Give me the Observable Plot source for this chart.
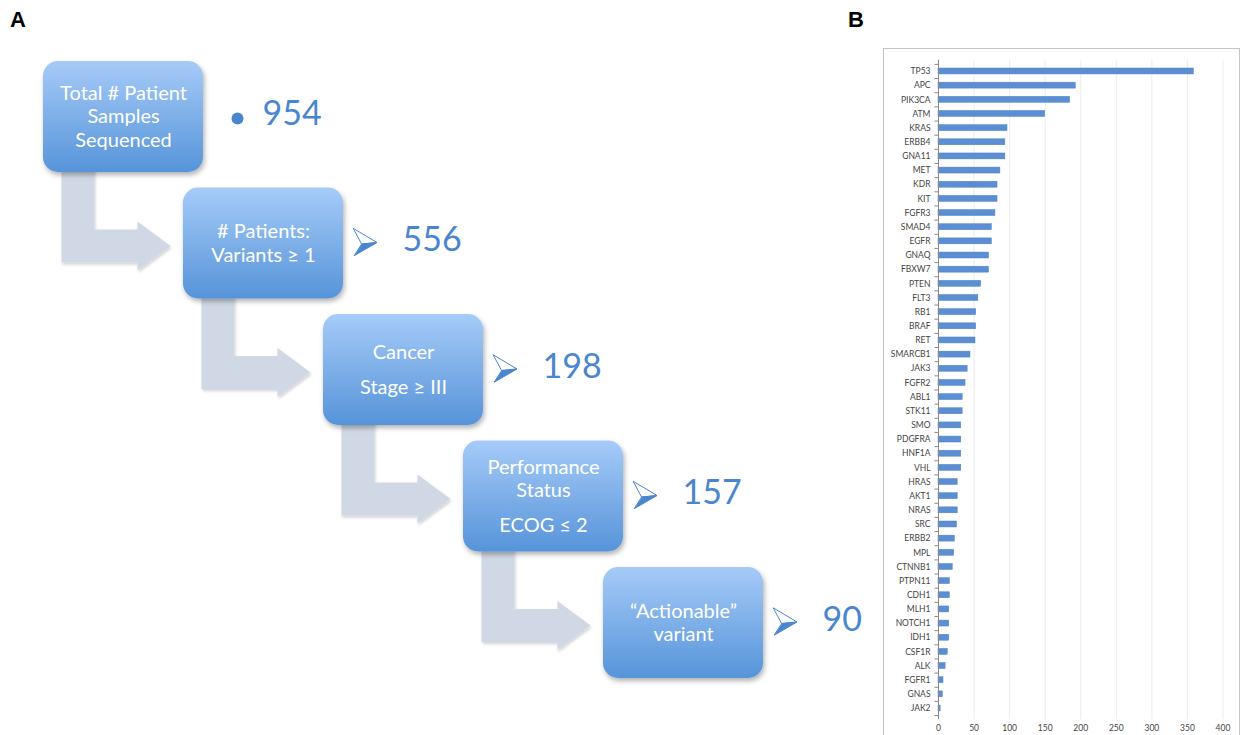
<!DOCTYPE html>
<html><head><meta charset="utf-8">
<script src="https://cdn.jsdelivr.net/npm/d3@7"></script>
<script src="https://cdn.jsdelivr.net/npm/@observablehq/plot@0.6"></script>
<style>
html,body{margin:0;padding:0;background:#fff;}
#root{position:relative;width:1244px;height:735px;overflow:hidden;}
.plabel{position:absolute;font:bold 22px "Liberation Sans",Arial,sans-serif;line-height:22px;color:#000;}
#a{position:absolute;left:0;top:0;}
#b{position:absolute;left:883px;top:48px;width:357px;height:700px;border:1px solid #c4c4c4;box-sizing:border-box;}
#b svg{position:absolute;left:0;top:0;}
</style></head>
<body><div id="root">
<div id="a"></div>
<div id="b"></div>
<div class="plabel" style="left:10px;top:9px">A</div>
<div class="plabel" style="left:848px;top:9px">B</div>
</div>
<script>
// ---- Panel A data ----
const stageLabels = [
  "Total # Patient\nSamples\nSequenced",
  "# Patients:\nVariants ≥ 1",
  "Cancer\n\nStage ≥ III",
  "Performance\nStatus\n\nECOG ≤ 2",
  "“Actionable”\nvariant"
];
const stageCounts = [954, 556, 198, 157, 90];

// ---- Panel B data ----
const genes = ["TP53","APC","PIK3CA","ATM","KRAS","ERBB4","GNA11","MET","KDR","KIT","FGFR3","SMAD4","EGFR","GNAQ","FBXW7","PTEN","FLT3","RB1","BRAF","RET","SMARCB1","JAK3","FGFR2","ABL1","STK11","SMO","PDGFRA","HNF1A","VHL","HRAS","AKT1","NRAS","SRC","ERBB2","MPL","CTNNB1","PTPN11","CDH1","MLH1","NOTCH1","IDH1","CSF1R","ALK","FGFR1","GNAS","JAK2"];
const geneCounts = [359,193,185,150,97,94,94,87,83,83,80,75,75,71,71,60,56,53,53,52,45,41,38,34,34,32,32,32,32,27,27,27,26,23,22,20,16,16,15,15,15,13,10,7,6,3];
const xTicks = [0,50,100,150,200,250,300,350,400];

// ================= Panel A =================
const W_A = 860, H_A = 735;
const SX = 140, SY = 126.5;   // px per flow step
const OX = 123, OY = 116.5;   // px of first box centre
const ux = px => px / SX, uy = px => px / SY;
const BW = ux(80), BH = uy(55.5);
const BLUE = "#4a86cf";
const FONT = "Lato, 'Open Sans', sans-serif";

const stages = stageLabels.map((label, i) => ({i, label, count: stageCounts[i]}));

// L-shaped grey connectors
const arrowPts = [];
for (let i = 0; i < stages.length - 1; i++) {
  const c = i, n = i + 1;
  [[c, -62, c, 50], [c, -29, c, 50], [c, -29, n, -14], [n, -126, n, -14], [n, -126, n, -22],
   [n, -93, n, 2.5], [n, -126, n, 27], [n, -126, n, 19], [c, -62, n, 19]]
    .forEach(([bx, dx, by, dy]) => arrowPts.push({a: i, x: bx + ux(dx), y: by + uy(dy)}));
}

// box text lines (blank line = half-line gap)
const LH = 23.5;
const lines = [];
stages.forEach(s => {
  let off = 0; const rows = [];
  s.label.split("\n").forEach(p => { if (p === "") off += 0.5; else { rows.push({text: p, off}); off += 1; } });
  const span = rows[rows.length - 1].off;
  rows.forEach(r => lines.push({i: s.i, text: r.text, y: s.i + uy((r.off - span / 2) * LH)}));
});

// arrowhead bullets (stages after the first)
const headTop = [], headBot = [];
stages.slice(1).forEach(s => {
  const cx = s.i + ux(80 + 22), cy = s.i + uy(-1);
  [[-12, -14], [11.5, 0], [-3.5, 1.5]].forEach(([dx, dy]) => headTop.push({k: s.i, x: cx + ux(dx), y: cy + uy(dy)}));
  [[-3.5, 1.5], [11.5, 0], [-11, 13]].forEach(([dx, dy]) => headBot.push({k: s.i, x: cx + ux(dx), y: cy + uy(dy)}));
});

const plotA = Plot.plot({
  width: W_A, height: H_A,
  margin: 0,
  x: {domain: [-OX / SX, (W_A - OX) / SX], axis: null},
  y: {domain: [-OY / SY, (H_A - OY) / SY], reverse: true, axis: null},
  style: {background: "transparent", overflow: "visible"},
  marks: [
    Plot.line(arrowPts, {x: "x", y: "y", z: "a", fill: "#cfd8e4", stroke: "none", curve: "linear-closed"}),
    Plot.rect(stages, {x1: d => d.i - BW, x2: d => d.i + BW, y1: d => d.i - BH, y2: d => d.i + BH,
      fill: "url(#boxGrad)", rx: 15, ry: 15}),
    Plot.text(lines, {x: "i", y: "y", text: "text", fill: "white", fontSize: 20, fontFamily: FONT}),
    Plot.dot(stages.slice(0, 1), {x: d => d.i + ux(80 + 34), y: d => d.i + uy(1.5), r: 6, fill: BLUE, stroke: "none"}),
    Plot.line(headTop, {x: "x", y: "y", z: "k", fill: "white", stroke: BLUE, strokeWidth: 1, curve: "linear-closed"}),
    Plot.line(headBot, {x: "x", y: "y", z: "k", fill: BLUE, stroke: BLUE, strokeWidth: 1, curve: "linear-closed"}),
    Plot.text(stages, {x: d => d.i + ux(80 + 59), y: d => d.i + uy(-3), text: d => String(d.count),
      textAnchor: "start", fill: BLUE, fontSize: 34, fontFamily: FONT})
  ]
});

{
  const svg = d3.select(plotA);
  const defs = svg.insert("defs", ":first-child");
  const g = defs.append("linearGradient").attr("id", "boxGrad").attr("x1", 0).attr("y1", 0).attr("x2", 0).attr("y2", 1);
  g.append("stop").attr("offset", "0%").attr("stop-color", "#a6cbf8");
  g.append("stop").attr("offset", "100%").attr("stop-color", "#5694d9");
  const f = defs.append("filter").attr("id", "shadow").attr("x", "-20%").attr("y", "-20%").attr("width", "140%").attr("height", "150%");
  f.append("feDropShadow").attr("dx", 1.5).attr("dy", 3).attr("stdDeviation", 2.5).attr("flood-color", "#000").attr("flood-opacity", 0.3);
  const f2 = defs.append("filter").attr("id", "shadow2").attr("x", "-20%").attr("y", "-20%").attr("width", "140%").attr("height", "150%");
  f2.append("feDropShadow").attr("dx", 1).attr("dy", 2).attr("stdDeviation", 1.5).attr("flood-color", "#000").attr("flood-opacity", 0.18);
  svg.select('g[aria-label="rect"]').attr("filter", "url(#shadow)");
  svg.select('g[aria-label="line"]').attr("filter", "url(#shadow2)");
}
document.getElementById("a").appendChild(plotA);

// ================= Panel B =================
const barData = genes.map((g, i) => ({gene: g, count: geneCounts[i]}));
const plotB = Plot.plot({
  width: 355, height: 686,
  marginLeft: 54, marginRight: 16.5, marginTop: 10.8, marginBottom: 15.8,
  x: {domain: [0, 400], ticks: xTicks, tickFormat: d => String(d), grid: true, label: null, tickSize: 0, tickPadding: 5},
  y: {domain: genes, padding: 0.58, round: false, label: null, tickSize: 0, tickPadding: 8},
  style: {background: "transparent", fontFamily: FONT, fontSize: "8.5px", color: "#444", overflow: "visible"},
  marks: [
    Plot.barX(barData, {x: "count", y: "gene", fill: "#5b8ed2", stroke: "#4f82c6", strokeWidth: 0.5}),
    Plot.ruleX([0], {stroke: "#8a8a8a"}),
    Plot.ruleY(genes, {y: d => d, x1: -5, x2: 0, dy: -7.08, stroke: "#8a8a8a"}),
    Plot.ruleY(genes.slice(-1), {y: d => d, x1: -5, x2: 0, dy: 7.08, stroke: "#8a8a8a"})
  ]
});
document.getElementById("b").appendChild(plotB);
</script>
</body></html>
